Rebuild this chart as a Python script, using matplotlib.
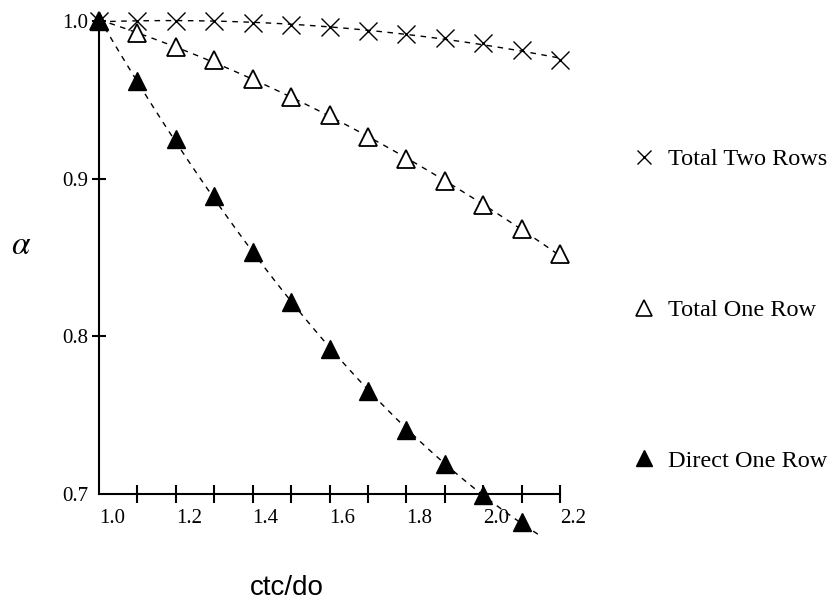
import numpy as np
import matplotlib
matplotlib.use("Agg")
import matplotlib.pyplot as plt
from matplotlib.lines import Line2D

x = [1.0, 1.1, 1.2, 1.3, 1.4, 1.5, 1.6, 1.7, 1.8, 1.9, 2.0, 2.1, 2.2]
total_two_rows = [1.0, 1.0, 1.0, 1.0, 0.999, 0.9975, 0.996, 0.9936, 0.9917, 0.989, 0.986, 0.9816, 0.975]
total_one_row = [1.0, 0.9924, 0.9835, 0.9752, 0.9631, 0.9517, 0.9403, 0.9263, 0.9123, 0.8983, 0.883, 0.8678, 0.852]
x_direct = [1.0, 1.1, 1.2, 1.3, 1.4, 1.5, 1.6, 1.7, 1.8, 1.9, 2.0, 2.1]
direct_one_row = [1.0, 0.9619, 0.925, 0.8888, 0.8538, 0.822, 0.7922, 0.7655, 0.7407, 0.7191, 0.6994, 0.6822]

xtick_labels = ["1.0", "1.2", "1.4", "1.6", "1.8", "2.0", "2.2"]
ytick_labels = ["0.7", "0.8", "0.9", "1.0"]
labels = ["Total Two Rows", "Total One Row", "Direct One Row"]

serif = "Liberation Serif"
plt.rcParams["mathtext.fontset"] = "stix"

fig = plt.figure(figsize=(8.31, 6.03), dpi=100)
ax = fig.add_axes([99/831, 1 - 494/603, (560-99)/831, (494-21)/603])

dash = (0, (4, 4))


def trend(xs, ys, x_end, deg=2):
    # excel-like polynomial trendline through the points
    c = np.polyfit(xs, ys, deg)
    xx = np.linspace(xs[0], x_end, 100)
    return xx, np.polyval(c, xx)


for xs, ys, x_end in [(x, total_two_rows, 2.2), (x, total_one_row, 2.2), (x_direct, direct_one_row, 2.15)]:
    tx, ty = trend(xs, ys, x_end)
    ax.plot(tx, ty, color="black", lw=1, ls=dash, clip_on=False)

ax.plot(x, total_two_rows, ls="none", marker="x", ms=13, mew=1, color="black", clip_on=False)
ax.plot(x, total_one_row, ls="none", marker="^", ms=13, mew=1.3, mfc="white", mec="black", clip_on=False)
ax.plot(x_direct, direct_one_row, ls="none", marker="^", ms=13, mew=1, mfc="black", mec="black", clip_on=False)

ax.set_xlim(1.0, 2.2)
ax.set_ylim(0.7, 1.0)
for s in ["top", "right"]:
    ax.spines[s].set_visible(False)
for s in ["left", "bottom"]:
    ax.spines[s].set_linewidth(1.5)

ax.set_xticks(x)
ax.set_xticklabels([xtick_labels[i // 2] if i % 2 == 0 else "" for i in range(len(x))])
ax.set_yticks([0.7, 0.8, 0.9, 1.0])
ax.set_yticklabels(ytick_labels)
ax.tick_params(axis="x", direction="inout", length=13, width=1.5, pad=4, labelsize=15)
ax.tick_params(axis="y", direction="inout", length=10, width=1.5, pad=3, labelsize=15)
for lab in ax.get_xticklabels():
    lab.set_horizontalalignment("left")
    lab.set_fontfamily(serif)
for lab in ax.get_yticklabels():
    lab.set_fontfamily(serif)
ax.xaxis.get_major_ticks()[0].tick1line.set_visible(False)
ax.yaxis.get_major_ticks()[0].tick1line.set_visible(False)

fig.text(287/831, 1 - 588/603, "ctc/do", fontsize=20, family="Liberation Sans",
         ha="center", va="center")
fig.text(21/831, 1 - 245/603, r"$\alpha$", fontsize=24, ha="center", va="center")

handles = [
    Line2D([], [], ls="none", marker="x", ms=10, mew=1, color="black"),
    Line2D([], [], ls="none", marker="^", ms=12, mew=1.2, mfc="white", mec="black"),
    Line2D([], [], ls="none", marker="^", ms=12, mew=1, mfc="black", mec="black"),
]
fig.legend(handles, labels, loc="center left", bbox_to_anchor=(622/831, 1 - 310/603),
           frameon=False, handlelength=1, handletextpad=0.5, labelspacing=5.3,
           prop={"family": serif, "size": 17.5}, borderaxespad=0)

fig.savefig("out.png", dpi=100, facecolor="white")
